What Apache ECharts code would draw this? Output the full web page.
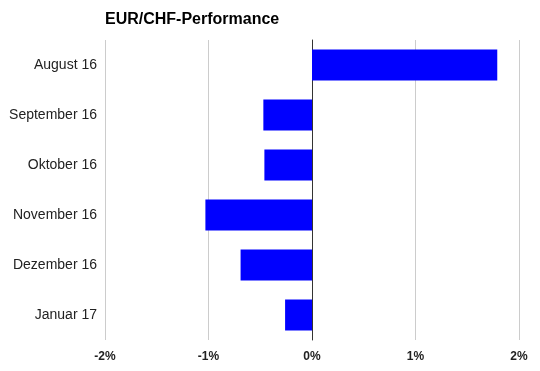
<!DOCTYPE html>
<html><head><meta charset="utf-8">
<script src="https://cdn.jsdelivr.net/npm/echarts@6/dist/echarts.min.js"></script>
<style>html,body{margin:0;padding:0;background:#fff}#c{width:540px;height:371px}</style>
</head><body><div id="c"></div>
<script>
const categories = ['August 16','September 16','Oktober 16','November 16','Dezember 16','Januar 17'];
const values = [1.79, -0.47, -0.46, -1.03, -0.69, -0.26];
const tickValues = [-2, -1, 0, 1, 2];

const chart = echarts.init(document.getElementById('c'), null, {renderer:'canvas'});
chart.setOption({
  animation: false,
  title: {
    text: 'EUR/CHF-Performance', left: 100, top: 7,
    textStyle: {fontFamily:'Liberation Sans, Arial, sans-serif', fontSize: 16, fontWeight: 'bold', color: '#000'}
  },
  grid: {left: 105, right: 21, top: 40, bottom: 31, containLabel: false},
  xAxis: {
    type: 'value', min: tickValues[0], max: tickValues[tickValues.length-1], interval: 1,
    axisLine: {show: false}, axisTick: {show: false},
    splitLine: {show: true, lineStyle: {color: '#cccccc', width: 1}},
    axisLabel: {
      formatter: v => v + '%', margin: 11,
      fontFamily: 'Liberation Sans, Arial, sans-serif', fontSize: 12, fontWeight: 'bold', color: '#222'
    }
  },
  yAxis: {
    type: 'category', data: categories, inverse: true,
    axisLine: {show: true, onZero: true, lineStyle: {color: '#333', width: 1}},
    axisTick: {show: false}, splitLine: {show: false},
    axisLabel: {margin: 8, fontFamily: 'Liberation Sans, Arial, sans-serif', fontSize: 14, color: '#222'}
  },
  series: [{
    type: 'bar', data: values, barWidth: 31,
    itemStyle: {color: '#0000ff'}
  }]
});
</script></body></html>
